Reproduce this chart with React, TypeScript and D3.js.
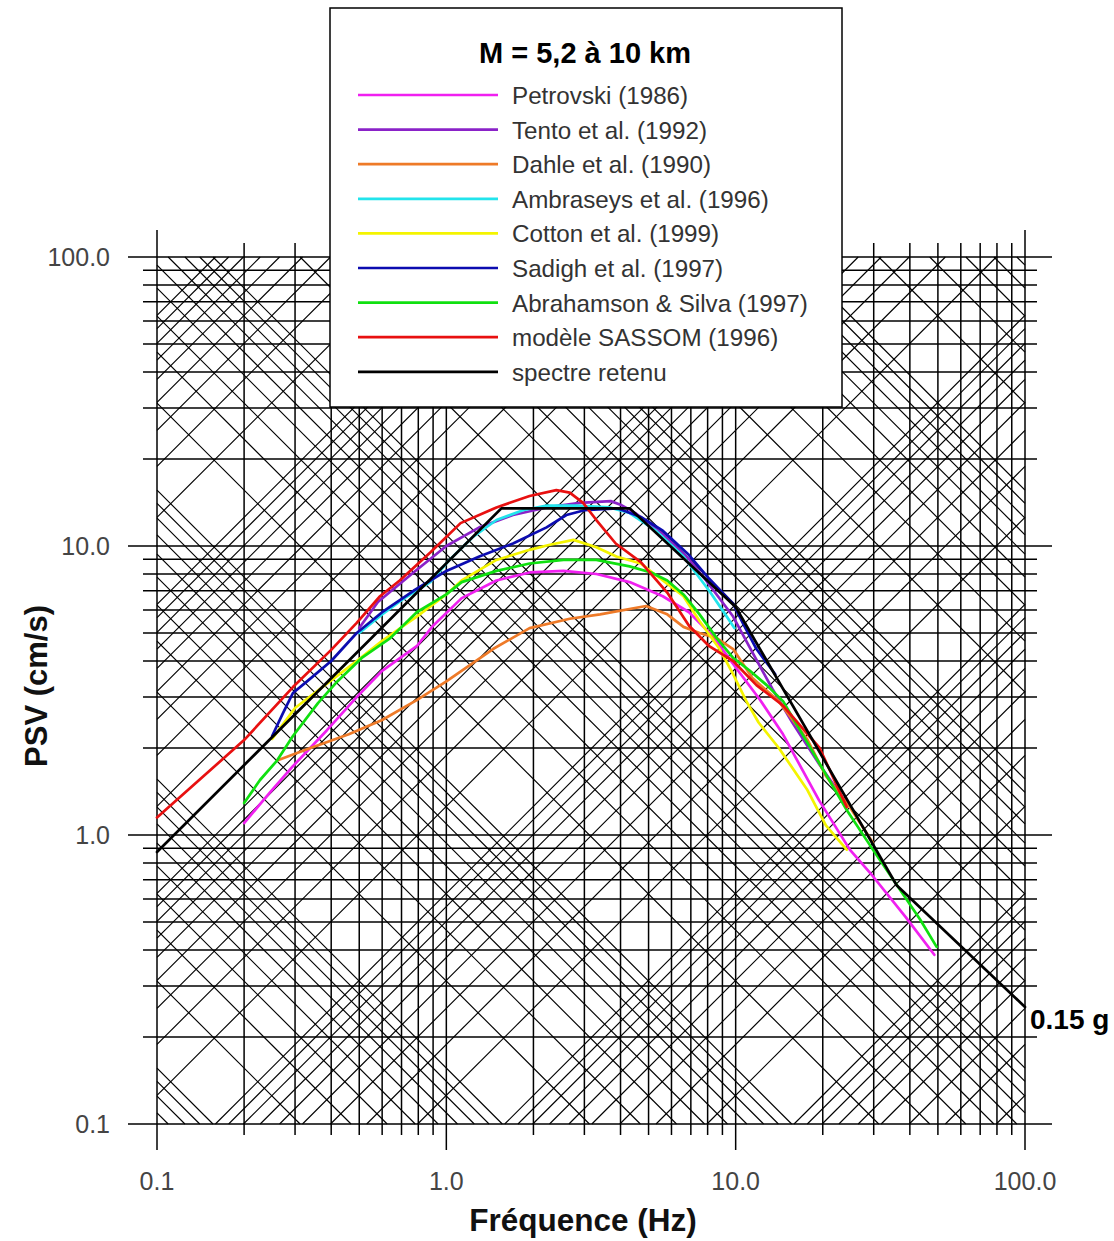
import React from 'react';
import * as d3 from 'd3';

const W = 1114;
const H = 1241;

// Axis ticks
const xTicks = [0.1, 1, 10, 100];
const xTickLabels = ['0.1', '1.0', '10.0', '100.0'];
const yTicks = [100, 10, 1, 0.1];
const yTickLabels = ['100.0', '10.0', '1.0', '0.1'];

// Grid / tripartite lines
const gridMultipliers = [1, 2, 3, 4, 5, 6, 7, 8, 9];
const gridDecades = [0.1, 1, 10];
const dispDecades = [1e-4, 1e-3, 1e-2, 1e-1, 1, 10, 100]; // displacement (cm)
const accelDecades = [1e-5, 1e-4, 1e-3, 1e-2, 1e-1, 1, 10]; // acceleration (g)
const G = 981;

// Series: [frequency Hz, PSV cm/s]
const petrovski: [number, number][] = [
  [0.2, 1.1], [0.245, 1.4], [0.295, 1.73], [0.386, 2.3], [0.49, 3.0], [0.6, 3.7], [0.79, 4.5],
  [0.9, 5.3], [1.13, 6.6], [1.49, 7.6], [1.94, 8.1], [2.54, 8.2], [3.3, 8.0], [4.3, 7.5],
  [5.6, 6.7], [6.9, 5.9], [8.3, 4.9], [9.3, 4.2], [10.2, 3.7], [12.1, 2.95], [14.5, 2.25],
  [19.4, 1.32], [24.8, 0.89], [29.8, 0.72], [38.7, 0.52], [48.6, 0.385],
];
const tento: [number, number][] = [
  [0.5, 5.2], [0.58, 6.4], [0.77, 8.1], [1.0, 10.0], [1.3, 11.6], [1.7, 12.8], [2.22, 13.6],
  [2.9, 14.1], [3.7, 14.3], [4.0, 13.9], [4.5, 13.0], [5.6, 11.0], [6.9, 9.0], [7.9, 7.6],
  [9.8, 5.7], [11.4, 4.3], [13.4, 3.2], [15.7, 2.45], [19.5, 1.75], [24, 1.3],
];
const dahle: [number, number][] = [
  [0.26, 1.81], [0.33, 1.98], [0.46, 2.23], [0.6, 2.5], [0.79, 2.93], [1.0, 3.4], [1.45, 4.4],
  [1.94, 5.2], [2.67, 5.6], [3.4, 5.8], [4.9, 6.2], [5.8, 5.8], [6.6, 5.25], [7.5, 5.0],
  [8.6, 4.8], [9.8, 4.4], [11.4, 3.5], [14.1, 2.9], [17.7, 2.14], [20.5, 1.6], [24.8, 1.25],
  [29.8, 0.94],
];
const ambraseys: [number, number][] = [
  [0.5, 5.0], [0.6, 5.8], [0.7, 6.5], [0.88, 7.5], [1.02, 8.9], [1.23, 10.7], [1.49, 12.3],
  [1.84, 13.3], [2.22, 13.8], [2.8, 13.8], [3.66, 13.6], [4.3, 13.0], [5.3, 11.3], [6.6, 9.2],
  [8.1, 7.0], [9.0, 6.0], [9.9, 5.2],
];
const cotton: [number, number][] = [
  [0.25, 2.15], [0.3, 2.75], [0.396, 3.4], [0.49, 4.0], [0.6, 4.7], [0.79, 5.7], [1.0, 6.8],
  [1.13, 7.6], [1.49, 8.95], [1.94, 9.7], [2.28, 10.1], [2.75, 10.5], [3.3, 9.9], [3.87, 9.2],
  [4.7, 8.7], [5.6, 7.6], [6.6, 6.7], [7.5, 5.5], [8.8, 4.4], [9.8, 3.6], [10.9, 2.9],
  [12.0, 2.45], [14.1, 2.0], [17.7, 1.43], [20.5, 1.08], [24.2, 0.89],
];
const sadigh: [number, number][] = [
  [0.25, 2.2], [0.272, 2.63], [0.295, 3.1], [0.33, 3.4], [0.4, 4.0], [0.49, 5.0], [0.6, 5.9],
  [0.77, 7.0], [1.0, 8.2], [1.3, 9.2], [1.7, 10.2], [2.22, 11.6], [2.6, 12.8], [3.0, 13.3],
  [3.9, 13.5], [4.7, 12.6], [5.6, 11.3], [6.9, 9.3], [8.1, 7.7], [9.8, 6.3], [10.6, 5.4],
  [11.8, 4.4], [13.7, 3.6],
];
const abrahamson: [number, number][] = [
  [0.2, 1.29], [0.227, 1.55], [0.26, 1.81], [0.295, 2.2], [0.36, 2.86], [0.42, 3.4], [0.51, 4.1],
  [0.64, 4.8], [0.79, 5.9], [1.0, 6.8], [1.13, 7.5], [1.49, 8.2], [1.94, 8.7], [2.54, 8.95],
  [3.3, 8.95], [4.3, 8.5], [5.1, 8.1], [5.8, 7.6], [6.6, 6.8], [7.5, 5.8], [8.6, 4.8],
  [9.8, 4.1], [11.2, 3.7], [12.8, 3.3], [14.6, 2.9], [24.2, 1.22], [29.8, 0.89], [36.5, 0.66],
  [43.4, 0.51], [49.5, 0.41],
];
const sassom: [number, number][] = [
  [0.1, 1.15], [0.2, 2.13], [0.295, 3.25], [0.4, 4.37], [0.49, 5.42], [0.59, 6.7], [0.69, 7.6],
  [0.88, 9.5], [1.12, 12.0], [1.49, 13.6], [1.94, 14.9], [2.4, 15.6], [2.67, 15.3], [2.97, 14.1],
  [3.3, 12.3], [3.85, 10.2], [4.7, 8.8], [5.8, 6.9], [6.9, 5.3], [8.1, 4.5], [9.8, 4.0],
  [11.8, 3.3], [14.6, 2.8], [19.5, 2.0], [24.2, 1.25],
];
const retenu: [number, number][] = [
  [0.1, 0.873], [1.55, 13.5], [4.3, 13.5], [10, 6.15], [36, 0.67], [100, 0.254],
];

const seriesNames = [
  'Petrovski (1986)', 'Tento et al. (1992)', 'Dahle et al. (1990)', 'Ambraseys et al. (1996)',
  'Cotton et al. (1999)', 'Sadigh et al. (1997)', 'Abrahamson & Silva (1997)',
  'modèle SASSOM (1996)', 'spectre retenu',
];
const seriesData = [petrovski, tento, dahle, ambraseys, cotton, sadigh, abrahamson, sassom, retenu];
const seriesColors = ['#f020f0', '#8a22c8', '#ee7a28', '#22e4ec', '#f4f400', '#0c0cb0', '#10e010', '#e81010', '#000000'];

const FONT = '"Liberation Sans", Arial, sans-serif';

export default function App() {
  const x = d3.scaleLog().domain([0.1, 100]).range([157, 1025]);
  const y = d3.scaleLog().domain([0.1, 100]).range([1124, 257]);
  const line = d3.line<[number, number]>().x(d => x(d[0])).y(d => y(d[1]));

  const gridVals: { v: number; major: boolean }[] = [];
  gridDecades.forEach(d => gridMultipliers.forEach(m => gridVals.push({ v: m * d, major: m === 1 })));
  gridVals.push({ v: 100, major: true });

  const diag: { x1: number; y1: number; x2: number; y2: number }[] = [];
  // displacement lines V = 2*pi*f*D
  dispDecades.forEach(dd => gridMultipliers.forEach(m => {
    const D = m * dd;
    const lo = Math.max(0.1, 0.1 / (2 * Math.PI * D));
    const hi = Math.min(100, 100 / (2 * Math.PI * D));
    if (hi > lo * 1.0001) diag.push({ x1: x(lo), y1: y(2 * Math.PI * lo * D), x2: x(hi), y2: y(2 * Math.PI * hi * D) });
  }));
  // acceleration lines V = A*g/(2*pi*f)
  accelDecades.forEach(ad => gridMultipliers.forEach(m => {
    const A = m * ad;
    const k = (A * G) / (2 * Math.PI);
    const lo = Math.max(0.1, k / 100);
    const hi = Math.min(100, k / 0.1);
    if (hi > lo * 1.0001) diag.push({ x1: x(lo), y1: y(k / lo), x2: x(hi), y2: y(k / hi) });
  }));

  const legendX = 330, legendY = 8, legendW = 512, legendH = 399;
  const rowY0 = 95, rowStep = 34.6;

  return (
    <svg width={W} height={H} style={{ position: 'absolute', left: 0, top: 0, background: '#fff' }} fontFamily={FONT}>
      <rect x={0} y={0} width={W} height={H} fill="#fff" />
      {/* diagonals */}
      <g stroke="#000" strokeWidth={1.15} fill="none">
        {diag.map((l, i) => <line key={'d' + i} x1={l.x1} y1={l.y1} x2={l.x2} y2={l.y2} />)}
      </g>
      {/* grid */}
      <g stroke="#000" strokeWidth={1.5}>
        {gridVals.map((g, i) => (
          <line key={'v' + i} x1={x(g.v)} x2={x(g.v)} y1={g.major ? 230 : 243} y2={g.major ? 1150 : 1135} />
        ))}
        {gridVals.map((g, i) => (
          <line key={'h' + i} y1={y(g.v)} y2={y(g.v)} x1={g.major ? 128 : 143} x2={g.major ? 1052 : 1037} />
        ))}
      </g>
      {/* series */}
      <g fill="none" strokeWidth={2.7} strokeLinejoin="round" strokeLinecap="round">
        {seriesData.map((s, i) => (
          <path key={'s' + i} d={line(s) || ''} stroke={seriesColors[i]} />
        ))}
      </g>
      {/* tick labels */}
      <g fontSize={25} fill="#444">
        {xTicks.map((t, i) => (
          <text key={'xt' + i} x={x(t)} y={1190} textAnchor="middle">{xTickLabels[i]}</text>
        ))}
        {yTicks.map((t, i) => (
          <text key={'yt' + i} x={110} y={y(t)} dy="0.36em" textAnchor="end">{yTickLabels[i]}</text>
        ))}
      </g>
      <text x={583} y={1231} textAnchor="middle" fontSize={31.5} fontWeight="bold" fill="#111">Fréquence (Hz)</text>
      <text transform="translate(47,686) rotate(-90)" textAnchor="middle" fontSize={31} fontWeight="bold" fill="#111">PSV (cm/s)</text>
      <text x={1030} y={1029} fontSize={28} fontWeight="bold" fill="#000">0.15 g</text>
      {/* legend */}
      <rect x={legendX} y={legendY} width={legendW} height={legendH} fill="#fff" stroke="#000" strokeWidth={1.5} />
      <text x={585} y={63} textAnchor="middle" fontSize={29} fontWeight="bold" fill="#000">M = 5,2 à 10 km</text>
      {seriesNames.map((n, i) => (
        <g key={'lg' + i}>
          <line x1={358} x2={498} y1={rowY0 + i * rowStep} y2={rowY0 + i * rowStep} stroke={seriesColors[i]} strokeWidth={2.7} />
          <text x={512} y={rowY0 + i * rowStep + 9} fontSize={24.2} fill="#333">{n}</text>
        </g>
      ))}
    </svg>
  );
}
